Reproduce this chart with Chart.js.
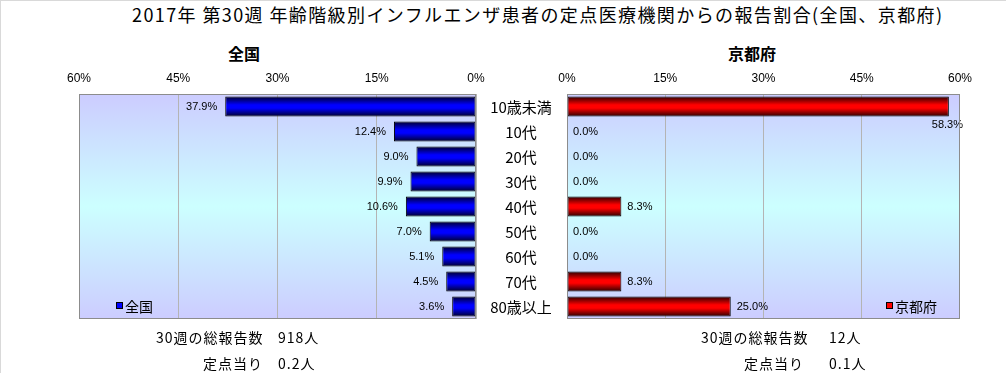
<!DOCTYPE html>
<html lang="ja">
<head>
<meta charset="UTF-8">
<title>年齢階級別インフルエンザ患者の報告割合</title>
<script src="https://cdn.jsdelivr.net/npm/chart.js"></script>
<style>
    html, body { margin: 0; padding: 0; background: #fff; }
    body { font-family: 'Noto Sans CJK JP', 'Liberation Sans', sans-serif; color: #000; }
    #wrap {
        position: relative;
        width: 1005px;
        height: 372px;
        border-top: 1px solid #d9d9d9;
        border-left: 1px solid #d9d9d9;
        overflow: hidden;
    }
    .abs { position: absolute; white-space: nowrap; line-height: 1; }
    #title { left: 131px; top: 4px; font-size: 18px; letter-spacing: 1.4px; }
    .panel { font-size: 16px; font-weight: bold; top: 44px; }
    .note { font-size: 14px; letter-spacing: 1px; }
    .legend { font-size: 14px; top: 298px; }
    .legend i {
        display: inline-block; width: 5px; height: 5px;
        border: 1px solid #000; margin-right: 2px; vertical-align: 3px;
    }
    canvas { position: absolute; }
</style>
</head>
<body>
<div id="wrap">
    <div class="abs" id="title">2017年 第30週 年齢階級別インフルエンザ患者の定点医療機関からの報告割合(全国、京都府)</div>
    <div class="abs panel" style="left:227px">全国</div>
    <div class="abs panel" style="left:727px">京都府</div>

    <canvas id="leftChart" width="500" height="265" style="left:-1px; top:59px; width:500px; height:265px"></canvas>
    <canvas id="rightChart" width="510" height="265" style="left:469px; top:59px; width:510px; height:265px"></canvas>

    <div class="abs legend" style="left:115px"><i style="background:#0000ff"></i>全国</div>
    <div class="abs legend" style="left:885px"><i style="background:#ff0000"></i>京都府</div>

    <div class="abs note" style="left:155px; top:329px">30週の総報告数</div>
    <div class="abs note" style="left:277px; top:329px">918人</div>
    <div class="abs note" style="left:202px; top:355px">定点当り</div>
    <div class="abs note" style="left:277px; top:355px">0.2人</div>

    <div class="abs note" style="left:700px; top:329px">30週の総報告数</div>
    <div class="abs note" style="left:828px; top:329px">12人</div>
    <div class="abs note" style="left:743px; top:355px">定点当り</div>
    <div class="abs note" style="left:828px; top:355px">0.1人</div>
</div>
<script>
const ageGroups = ['10歳未満', '10代', '20代', '30代', '40代', '50代', '60代', '70代', '80歳以上'];
const nationalPct = [37.9, 12.4, 9.0, 9.9, 10.6, 7.0, 5.1, 4.5, 3.6];
const kyotoPct = [58.3, 0.0, 0.0, 0.0, 8.3, 0.0, 0.0, 8.3, 25.0];
const axisTicks = [0, 15, 30, 45, 60];

// 背景グラデーションと枠線
const plotFrame = {
    id: 'plotFrame',
    beforeDraw(chart) {
        const { ctx, chartArea: a } = chart;
        const g = ctx.createLinearGradient(0, a.top, 0, a.bottom);
        g.addColorStop(0, '#ccccff');
        g.addColorStop(0.5, '#ccffff');
        g.addColorStop(1, '#ccccff');
        ctx.save();
        ctx.fillStyle = g;
        ctx.fillRect(a.left, a.top, a.right - a.left, a.bottom - a.top);
        ctx.restore();
    },
    afterDraw(chart) {
        const { ctx, chartArea: a } = chart;
        ctx.save();
        ctx.strokeStyle = '#8c8c8c';
        ctx.lineWidth = 1;
        ctx.strokeRect(Math.round(a.left) + 0.5, Math.round(a.top) + 0.5,
            Math.round(a.right - a.left) - 1, Math.round(a.bottom - a.top) - 1);
        ctx.restore();
    }
};

// 値ラベルと年齢階級ラベル
const valueLabels = {
    id: 'valueLabels',
    afterDatasetsDraw(chart, args, opts) {
        const { ctx, chartArea: a } = chart;
        const meta = chart.getDatasetMeta(0);
        const values = chart.data.datasets[0].data;
        ctx.save();
        ctx.font = '11px "Liberation Sans", Arial, sans-serif';
        ctx.fillStyle = '#000';
        ctx.textBaseline = 'middle';
        meta.data.forEach((bar, i) => {
            const text = values[i].toFixed(1) + '%';
            const w = ctx.measureText(text).width;
            if (opts.side === 'left') {
                ctx.textAlign = 'right';
                ctx.fillText(text, bar.x - 8, bar.y);
            } else if (bar.x + 6 + w > a.right) {
                ctx.textAlign = 'right';
                ctx.fillText(text, a.right + 3, bar.y + 18);
            } else {
                ctx.textAlign = 'left';
                ctx.fillText(text, bar.x + 6, bar.y);
            }
        });
        if (opts.side === 'right') {
            ctx.font = '15px "Noto Sans CJK JP", sans-serif';
            ctx.textAlign = 'center';
            chart.data.labels.forEach((lab, i) => {
                ctx.fillText(lab, a.left - 46, chart.scales.y.getPixelForValue(i) + 1);
            });
        }
        ctx.restore();
    }
};

function barFill(dark, bright) {
    return function(c) {
        const chart = c.chart;
        const y = chart.scales.y;
        if (!chart.chartArea || !y) return bright;
        const py = y.getPixelForValue(c.dataIndex);
        const g = chart.ctx.createLinearGradient(0, py - 10, 0, py + 10);
        g.addColorStop(0, dark);
        g.addColorStop(0.42, bright);
        g.addColorStop(0.58, bright);
        g.addColorStop(1, dark);
        return g;
    };
}

function makeChart(id, values, side) {
    const left = side === 'left';
    return new Chart(document.getElementById(id), {
        type: 'bar',
        data: {
            labels: ageGroups,
            datasets: [{
                label: left ? '全国' : '京都府',
                data: values,
                backgroundColor: left ? barFill('#00002a', '#0000ff') : barFill('#2a0000', '#ff0000'),
                borderColor: '#000',
                borderWidth: 1,
                borderSkipped: false,
                barPercentage: 0.8,
                categoryPercentage: 1.0
            }]
        },
        options: {
            indexAxis: 'y',
            responsive: false,
            animation: false,
            devicePixelRatio: 1,
            layout: { padding: left ? { left: 79, right: 24, top: 0, bottom: 6 } : { left: 97, right: 17, top: 0, bottom: 6 } },
            plugins: {
                legend: { display: false },
                tooltip: { enabled: false },
                valueLabels: { side: side }
            },
            scales: {
                x: {
                    position: 'top',
                    reverse: left,
                    min: 0,
                    max: 60,
                    afterBuildTicks: s => { s.ticks = axisTicks.map(v => ({ value: v })); },
                    afterFit: s => { s.height = 34; },
                    grid: { color: '#b4b4b4', drawTicks: false },
                    border: { display: false },
                    ticks: {
                        padding: 8,
                        color: '#000',
                        font: { family: '"Liberation Sans", Arial, sans-serif', size: 12 },
                        callback: v => v + '%'
                    }
                },
                y: { display: false }
            }
        },
        plugins: [plotFrame, valueLabels]
    });
}

makeChart('leftChart', nationalPct, 'left');
makeChart('rightChart', kyotoPct, 'right');
</script>
</body>
</html>
